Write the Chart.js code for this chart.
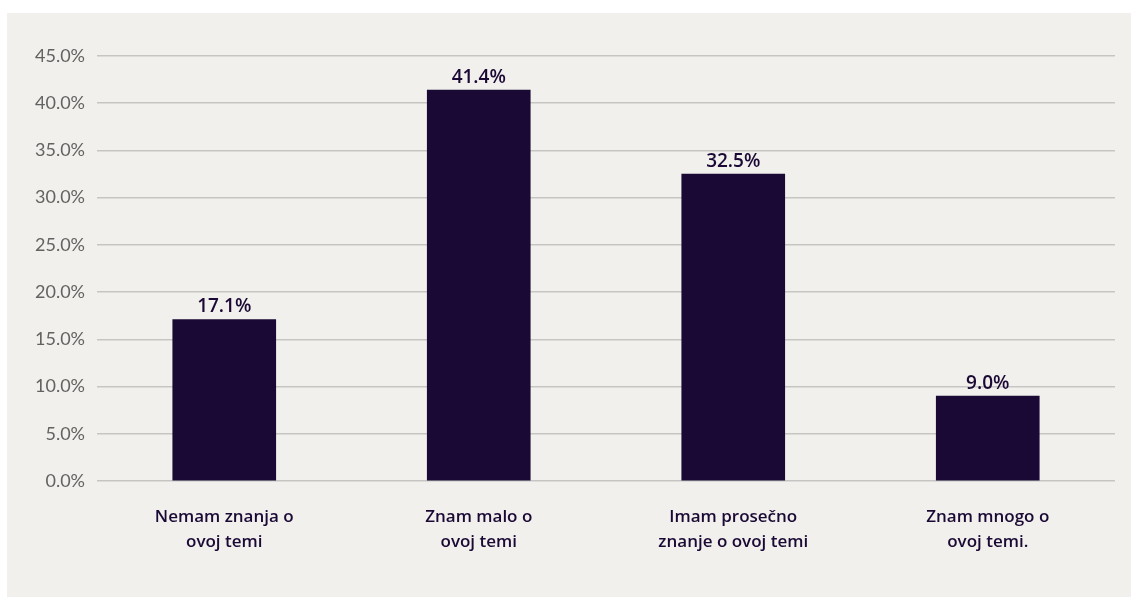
<!DOCTYPE html>
<html>
<head>
<meta charset="utf-8">
<script src="https://cdn.jsdelivr.net/npm/chart.js@4"></script>
<style>
  html, body { margin: 0; padding: 0; background: #ffffff; width: 1131px; height: 597px; overflow: hidden; }
  #panel { position: absolute; left: 7px; top: 13px; width: 1124px; height: 584px; background: #f1f0ec; }
  canvas { display: block; }
</style>
</head>
<body>
<div id="panel"><canvas id="c" width="1124" height="584"></canvas></div>
<script>
const categories = [
  ["Nemam znanja o", "ovoj temi"],
  ["Znam malo o", "ovoj temi"],
  ["Imam prosečno", "znanje o ovoj temi"],
  ["Znam mnogo o", "ovoj temi."]
];
const values = [17.1, 41.4, 32.5, 9.0];
const yMin = 0;
const yMax = 45;
const yStep = 5;

const barColor = '#1b0935';
const textDark = '#1b0935';

const dataLabels = {
  id: 'dataLabels',
  afterDatasetsDraw(chart) {
    const ctx = chart.ctx;
    const meta = chart.getDatasetMeta(0);
    ctx.save();
    ctx.font = '600 19px "Open Sans", Lato, sans-serif';
    ctx.fillStyle = textDark;
    ctx.textAlign = 'center';
    ctx.textBaseline = 'bottom';
    meta.data.forEach((bar, i) => {
      ctx.fillText(values[i].toFixed(1) + '%', bar.x, bar.y - 3);
    });
    ctx.restore();
  }
};

new Chart(document.getElementById('c'), {
  type: 'bar',
  data: {
    labels: categories,
    datasets: [{
      data: values,
      backgroundColor: barColor,
      borderWidth: 0,
      barThickness: 103
    }]
  },
  options: {
    responsive: false,
    animation: false,
    devicePixelRatio: 1,
    layout: { padding: { left: 0, right: 16, top: 43, bottom: 0 } },
    plugins: { legend: { display: false }, tooltip: { enabled: false } },
    scales: {
      x: {
        grid: { display: false, drawTicks: false },
        border: { display: false },
        ticks: {
          color: textDark,
          font: { family: '"Open Sans", Lato, sans-serif', size: 17, weight: '600', lineHeight: 1.45 },
          padding: 24,
          maxRotation: 0,
          autoSkip: false
        },
        afterFit(scale) { scale.height = 116; }
      },
      y: {
        min: yMin,
        max: yMax,
        grid: { color: '#c6c5c3', lineWidth: 1.5, drawTicks: false },
        border: { display: false },
        ticks: {
          stepSize: yStep,
          color: '#626262',
          font: { family: 'Lato, "Open Sans", sans-serif', size: 18 },
          padding: 12,
          callback: (v) => v.toFixed(1) + '%'
        },
        afterFit(scale) { scale.width = 90; }
      }
    }
  },
  plugins: [dataLabels]
});
</script>
</body>
</html>
